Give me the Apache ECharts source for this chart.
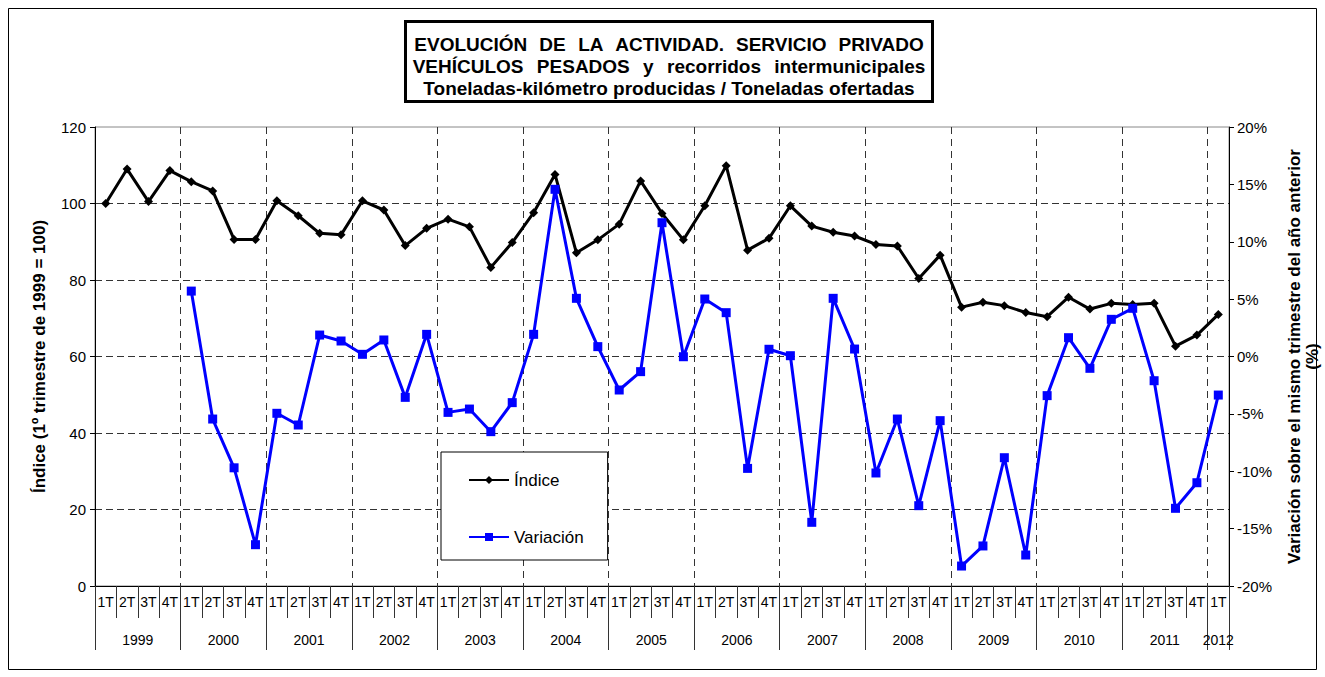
<!DOCTYPE html>
<html>
<head>
<meta charset="utf-8">
<script src="https://cdn.jsdelivr.net/npm/echarts@6/dist/echarts.min.js"></script>
<style>html,body{margin:0;padding:0;background:#fff}#c{width:1325px;height:677px}</style>
</head>
<body>
<div id="c"></div>
<script>
const years = ['1999','2000','2001','2002','2003','2004','2005','2006','2007','2008','2009','2010','2011','2012'];
const quarterNames = ['1T','2T','3T','4T'];
const quarterCounts = [4,4,4,4,4,4,4,4,4,4,4,4,4,1];
const indice = [100, 109, 100.5, 108.6, 105.7, 103.3, 90.6, 90.6, 100.7, 96.8, 92.2, 91.8,
  100.7, 98.3, 89.0, 93.5, 95.9, 93.9, 83.3, 89.8, 97.6, 107.6, 87.1, 90.5,
  94.6, 105.9, 97.4, 90.5, 99.4, 109.9, 87.8, 90.9, 99.4, 94.1, 92.5, 91.5,
  89.3, 88.9, 80.4, 86.5, 72.9, 74.2, 73.3, 71.5, 70.4, 75.5, 72.4, 73.9,
  73.6, 73.9, 62.7, 65.6, 71.0];
const variacion = [null, null, null, null, 5.7, -5.45, -9.7, -16.4, -4.95, -5.97, 1.87, 1.35,
  0.19, 1.44, -3.56, 1.93, -4.87, -4.58, -6.55, -4.02, 1.93, 14.57, 5.07, 0.86,
  -2.92, -1.32, 11.66, -0.02, 5.01, 3.82, -9.75, 0.63, 0.07, -14.45, 5.07, 0.65,
  -10.15, -5.45, -13.0, -5.59, -18.26, -16.51, -8.82, -17.3, -3.41, 1.64, -1.03, 3.24,
  4.2, -2.11, -13.23, -11.0, -3.36];
const titleLines = ['EVOLUCIÓN DE LA ACTIVIDAD. SERVICIO PRIVADO',
  'VEHÍCULOS PESADOS y recorridos intermunicipales',
  'Toneladas-kilómetro producidas / Toneladas ofertadas'];
const leftAxisName = 'Índice (1º trimestre de 1999 = 100)';
const rightAxisName = 'Variación sobre el mismo trimestre del año anterior\n(%)';
const seriesNames = ['Índice', 'Variación'];

// quarter categories
const categories = [];
years.forEach((y, k) => { for (let q = 0; q < quarterCounts[k]; q++) categories.push(quarterNames[q]); });
const nQ = categories.length; // 53
// year level: half-quarter slots (labels centred on each year)
const yearSlots = [];
for (let j = 0; j <= nQ * 2; j++) yearSlots.push('');
let start = 0;
const yearLabelIdx = {};
years.forEach((y, k) => {
  const c = start * 2 + quarterCounts[k];
  yearSlots[c] = y; yearLabelIdx[c] = true;
  start += quarterCounts[k];
});

// justified title: widen word spaces on the first two lines
const titleText = titleLines.map((l, i) => i < 2 ? l.split(' ').join(' {s' + i + '| }') : l).join('\n');

const FONT = 'Liberation Sans';
const chart = echarts.init(document.getElementById('c'), null, {renderer: 'svg'});
chart.setOption({
  animation: false,
  textStyle: {fontFamily: FONT, color: '#000'},
  title: {
    text: titleText,
    left: 669, top: 33, textAlign: 'center', padding: 0,
    textStyle: {
      fontFamily: FONT, fontSize: 19, fontWeight: 'bold', lineHeight: 22, color: '#000',
      rich: {
        s0: {fontFamily: FONT, fontSize: 24.5, fontWeight: 'bold', lineHeight: 22},
        s1: {fontFamily: FONT, fontSize: 29, fontWeight: 'bold', lineHeight: 22}
      }
    }
  },
  graphic: [
    {type: 'rect', shape: {x: 8.5, y: 8.5, width: 1308, height: 661}, style: {fill: 'none', stroke: '#000', lineWidth: 1}, silent: true, z: -10},
    {type: 'rect', shape: {x: 405.5, y: 21.5, width: 527, height: 80}, style: {fill: 'none', stroke: '#000', lineWidth: 3}, silent: true}
  ],
  legend: {
    orient: 'vertical', left: 441, top: 452,
    itemWidth: 40, itemHeight: 10, itemGap: 39,
    padding: [19, 24, 14, 27],
    borderColor: '#000', borderWidth: 1, backgroundColor: '#fff',
    textStyle: {fontFamily: FONT, fontSize: 17, lineHeight: 18, color: '#000'},
    data: seriesNames
  },
  grid: [
    {left: 95, right: 96, top: 127, bottom: 91, show: true, borderColor: '#888', borderWidth: 1, containLabel: false, outerBoundsMode: 'none'},
    {left: 95, right: 96, top: 586, height: 64, show: false, containLabel: false, outerBoundsMode: 'none'}
  ],
  xAxis: [
    {
      type: 'category', gridIndex: 0, data: categories, position: 'bottom', boundaryGap: true,
      axisLine: {show: true, lineStyle: {color: '#000', width: 1}},
      axisTick: {show: true, interval: 0, length: 32, lineStyle: {color: '#333'}},
      axisLabel: {interval: 0, margin: 9, fontSize: 14, color: '#000', fontFamily: FONT},
      splitLine: {show: true, interval: (i) => i % 4 === 0 && i > 0, lineStyle: {color: '#333', type: [7, 5], width: 1}}
    },
    {
      type: 'category', gridIndex: 0, data: yearSlots, position: 'bottom', boundaryGap: false,
      axisLine: {show: false},
      axisTick: {show: false},
      axisLabel: {interval: (i) => !!yearLabelIdx[i], margin: 47, fontSize: 14, color: '#000', fontFamily: FONT},
      splitLine: {show: false}
    },
    {
      // year separators below the plot
      type: 'category', gridIndex: 1, data: categories, position: 'bottom', boundaryGap: true,
      axisLine: {show: false}, axisTick: {show: false}, axisLabel: {show: false},
      splitLine: {show: true, interval: (i) => i % 4 === 0, lineStyle: {color: '#333', type: 'solid', width: 1}}
    }
  ],
  yAxis: [
    {
      type: 'value', gridIndex: 0, min: 0, max: 120, interval: 20, position: 'left',
      axisLine: {show: true, lineStyle: {color: '#000', width: 1}},
      axisTick: {show: true, length: 5, lineStyle: {color: '#000'}},
      axisLabel: {fontSize: 15, margin: 9, color: '#000', fontFamily: FONT},
      splitLine: {show: true, showMinLine: false, showMaxLine: false, lineStyle: {color: '#333', type: [7, 4], width: 1}},
      name: leftAxisName, nameLocation: 'middle', nameGap: 47,
      nameTextStyle: {fontFamily: FONT, fontSize: 17, fontWeight: 'bold', color: '#000'}
    },
    {
      type: 'value', gridIndex: 0, min: -20, max: 20, interval: 5, position: 'right',
      axisLine: {show: true, lineStyle: {color: '#000', width: 1}},
      axisTick: {show: true, length: 5, lineStyle: {color: '#000'}},
      axisLabel: {fontSize: 15, margin: 8, color: '#000', formatter: '{value}%', fontFamily: FONT},
      splitLine: {show: false},
      name: rightAxisName, nameLocation: 'middle', nameGap: 56, nameRotate: 90,
      nameTextStyle: {fontFamily: FONT, fontSize: 17, fontWeight: 'bold', color: '#000', lineHeight: 18}
    },
    {
      type: 'value', gridIndex: 1, min: 0, max: 1, show: false
    }
  ],
  series: [
    {
      name: seriesNames[0], type: 'line', data: indice, xAxisIndex: 0, yAxisIndex: 0,
      symbol: 'diamond', symbolSize: 9, showAllSymbol: true,
      lineStyle: {color: '#000', width: 3}, itemStyle: {color: '#000'}, z: 3
    },
    {
      name: seriesNames[1], type: 'line', data: variacion, xAxisIndex: 0, yAxisIndex: 1,
      symbol: 'rect', symbolSize: 9, showAllSymbol: true, connectNulls: false,
      lineStyle: {color: '#0000ff', width: 3}, itemStyle: {color: '#0000ff'}, z: 4
    }
  ]
});
</script>
</body>
</html>
